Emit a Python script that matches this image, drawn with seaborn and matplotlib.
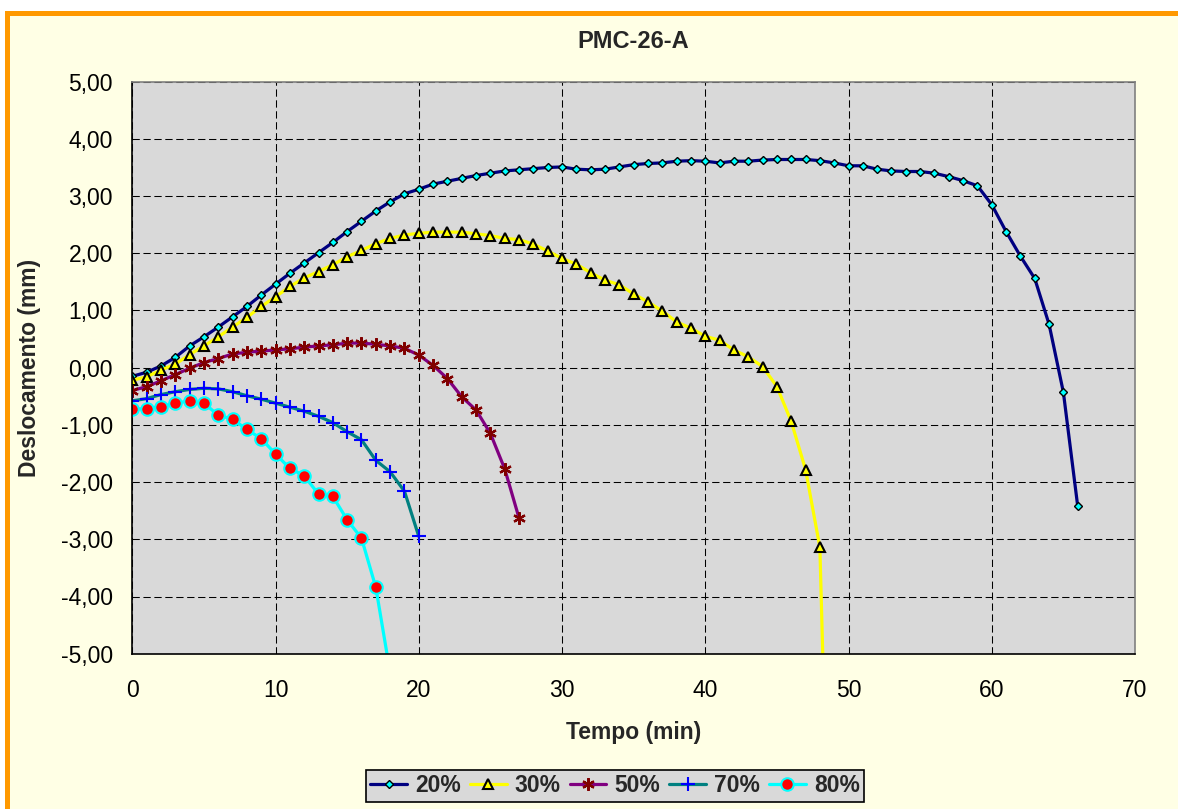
import numpy as np
import pandas as pd
import matplotlib.pyplot as plt
import seaborn as sns
from matplotlib.patches import Rectangle
from matplotlib.ticker import FuncFormatter, MultipleLocator

# ---- data (Tempo in min, Deslocamento in mm) ----
t_20 = list(range(0, 67))
d_20 = [-0.15, -0.08, 0.03, 0.18, 0.38, 0.54, 0.71, 0.89, 1.07, 1.27,
        1.46, 1.65, 1.83, 2.01, 2.19, 2.38, 2.56, 2.74, 2.90, 3.04,
        3.12, 3.21, 3.26, 3.31, 3.36, 3.40, 3.44, 3.46, 3.48, 3.50,
        3.51, 3.47, 3.46, 3.47, 3.51, 3.55, 3.57, 3.58, 3.61, 3.62,
        3.61, 3.58, 3.61, 3.61, 3.63, 3.64, 3.64, 3.64, 3.62, 3.58,
        3.53, 3.53, 3.47, 3.44, 3.43, 3.43, 3.40, 3.34, 3.27, 3.18,
        2.85, 2.38, 1.95, 1.56, 0.76, -0.43, -2.42]

t_30 = list(range(0, 50))
d_30 = [-0.22, -0.16, -0.04, 0.06, 0.23, 0.38, 0.54, 0.71, 0.88, 1.07,
        1.24, 1.42, 1.57, 1.68, 1.80, 1.94, 2.05, 2.17, 2.26, 2.32,
        2.35, 2.37, 2.37, 2.37, 2.34, 2.31, 2.26, 2.24, 2.16, 2.04,
        1.91, 1.81, 1.66, 1.53, 1.45, 1.29, 1.15, 0.99, 0.80, 0.69,
        0.55, 0.48, 0.31, 0.19, 0.02, -0.33, -0.94, -1.78, -3.14, -12.4]

t_50 = list(range(0, 28))
d_50 = [-0.40, -0.33, -0.23, -0.12, -0.01, 0.09, 0.16, 0.24, 0.27, 0.29,
        0.31, 0.33, 0.36, 0.38, 0.40, 0.43, 0.43, 0.41, 0.38, 0.34,
        0.22, 0.04, -0.19, -0.51, -0.74, -1.15, -1.77, -2.63]

t_70 = list(range(0, 21))
d_70 = [-0.58, -0.54, -0.47, -0.42, -0.38, -0.36, -0.37, -0.42, -0.49, -0.55,
        -0.62, -0.69, -0.76, -0.85, -0.96, -1.12, -1.26, -1.62, -1.82, -2.16,
        -2.95]

t_80 = list(range(0, 19))
d_80 = [-0.72, -0.72, -0.68, -0.62, -0.58, -0.62, -0.83, -0.90, -1.08, -1.24,
        -1.51, -1.76, -1.89, -2.21, -2.25, -2.66, -2.98, -3.84, -5.33]

series = [
    ("20%", t_20, d_20, dict(color="#000080", marker="D", markersize=4,
                             markerfacecolor="#00FFFF", markeredgecolor="black", markeredgewidth=1.0)),
    ("30%", t_30, d_30, dict(color="#FFFF00", marker="^", markersize=7,
                             markerfacecolor="#FFFF00", markeredgecolor="black", markeredgewidth=1.5)),
    ("50%", t_50, d_50, dict(color="#800080", marker=(6, 2, 0), markersize=9,
                             markeredgecolor="#800000", markeredgewidth=1.6)),
    ("70%", t_70, d_70, dict(color="#008080", marker="+", markersize=10,
                             markeredgecolor="#0000FF", markeredgewidth=1.5)),
    ("80%", t_80, d_80, dict(color="#00FFFF", marker="o", markersize=9,
                             markerfacecolor="#FF0000", markeredgecolor="#00FFFF", markeredgewidth=1.5)),
]

sns.set_style("white")
plt.rcParams["font.family"] = ["Liberation Sans", "DejaVu Sans"]

W, H = 1178, 809
fig = plt.figure(figsize=(W / 100, H / 100), dpi=100, facecolor="white")

# orange frame + pale yellow chart area (Excel style)
fig.patches.append(Rectangle((5 / W, 0), 1, 1 - 11 / H, transform=fig.transFigure,
                             facecolor="#FF9900", edgecolor="none", zorder=-3))
fig.patches.append(Rectangle((10 / W, 0), 1, 1 - 16 / H, transform=fig.transFigure,
                             facecolor="#FFFFE5", edgecolor="none", zorder=-2))

ax = fig.add_axes([132.3 / W, 1 - 653.7 / H, (1135 - 132.3) / W, (653.7 - 81.7) / H])
ax.set_facecolor("#D9D9D9")

for name, t, d, style in series:
    df = pd.DataFrame({"Tempo": t, "Desl": d})
    sns.lineplot(data=df, x="Tempo", y="Desl", ax=ax, label=name,
                 linewidth=2.3, estimator=None, **style)

ax.set_xlim(0, 70)
ax.set_ylim(-5, 5)
ax.xaxis.set_major_locator(MultipleLocator(10))
ax.yaxis.set_major_locator(MultipleLocator(1))
ax.yaxis.set_major_formatter(FuncFormatter(lambda v, p: f"{v:.2f}".replace(".", ",")))
ax.grid(True, color="black", linewidth=0.75, linestyle=(0, (7, 3.5)))
ax.set_axisbelow(True)

for s in ["top", "right"]:
    ax.spines[s].set_color("#808080")
for s in ["left", "bottom"]:
    ax.spines[s].set_color("black")
for s in ax.spines.values():
    s.set_linewidth(1.2)

ax.tick_params(axis="both", direction="out", length=5, width=1, color="black",
               labelsize=16.5, colors="black")
ax.tick_params(axis="y", pad=9)
ax.tick_params(axis="x", pad=13)

ax.set_xlabel("Tempo (min)", fontsize=16.5, fontweight="bold", labelpad=14)
ax.set_ylabel("Deslocamento (mm)", fontsize=16.5, fontweight="bold", labelpad=14)
ax.set_title("PMC-26-A", fontsize=17, fontweight="bold", pad=24.5)

ax.get_legend().remove()
handles, labels = ax.get_legend_handles_labels()
leg = fig.legend(handles, labels, ncol=5, loc="center",
                 bbox_to_anchor=(615 / W, 1 - 786 / H), frameon=True, fancybox=False,
                 prop={"weight": "bold", "size": 16.5}, handlelength=1.6,
                 handletextpad=0.35, columnspacing=0.4, borderpad=0.2,
                 borderaxespad=0)
leg.get_frame().set_facecolor("#D9D9D9")
leg.get_frame().set_edgecolor("black")
leg.get_frame().set_linewidth(1.2)
leg.get_frame().set_alpha(1)

plt.savefig("out.png", dpi=100, facecolor=fig.get_facecolor())
